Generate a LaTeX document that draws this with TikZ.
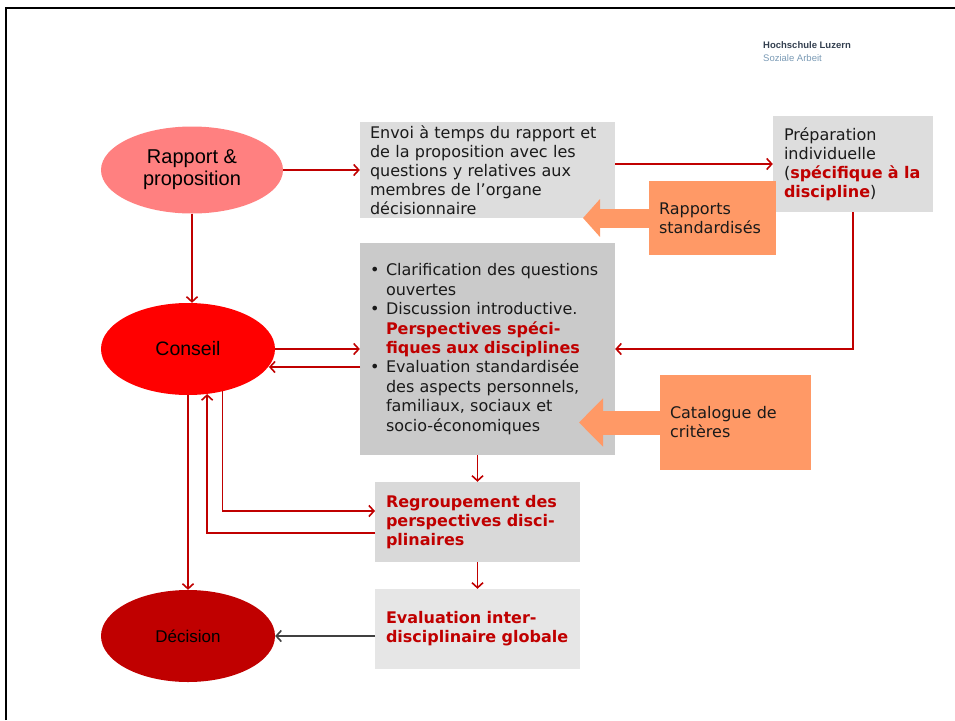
\documentclass[tikz,border=0pt]{standalone}
\usepackage{fontspec}
\setmainfont{DejaVu Sans}
\newfontfamily\arialfont{Liberation Sans}
\usetikzlibrary{arrows.meta,shapes.geometric}

% Couleurs
\definecolor{rouge}{HTML}{C00000}
\definecolor{rougeclair}{HTML}{FF8080}
\definecolor{rougevif}{HTML}{FF0000}
\definecolor{grisclair}{HTML}{DDDDDD}
\definecolor{grisfonce}{HTML}{CACACA}
\definecolor{grismoyen}{HTML}{D9D9D9}
\definecolor{grispale}{HTML}{E6E6E6}
\definecolor{orangeclair}{HTML}{FF9966}
\definecolor{texte}{HTML}{1A1A1A}
\definecolor{logosombre}{HTML}{333F4F}
\definecolor{logobleu}{HTML}{7A9AB5}

\newcommand{\enrouge}[1]{\textcolor{rouge}{\textbf{#1}}}
\newcommand{\puce}{\makebox[16pt][l]{\textbullet}}
\newcommand{\retrait}{\hspace*{16pt}}

\tikzset{
  bloc/.style={rectangle, inner xsep=10pt, inner ysep=0pt, align=left,
    text=texte, font=\fontsize{16}{19}\selectfont},
  bulle/.style={ellipse, inner sep=0pt, align=center, text=black},
  fleche/.style={draw=rouge, line width=1.6pt,
    -{Straight Barb[length=5pt,width=11pt]}},
  renvoi/.style={draw=orangeclair, line width=#1}
}

\begin{document}
\begin{tikzpicture}[x=1pt,y=-1pt]
        \useasboundingbox (0,0) rectangle (955,720);

        % Cadre
        \draw[line width=2.5pt] (6,720) -- (6,8) -- (955,8);

        % Logo
        \node[anchor=west, inner sep=0pt, text=logosombre,
              font=\arialfont\bfseries\fontsize{9.5}{10}\selectfont] (hslu) at (763,45) {Hochschule Luzern};
        \node[anchor=west, inner sep=0pt, text=logobleu,
              font=\arialfont\fontsize{9.5}{10}\selectfont] (sozial) at (763,58) {Soziale Arbeit};

        % Ellipses
        \node[bulle, fill=rougeclair, minimum width=182pt, minimum height=87pt,
              font=\arialfont\fontsize{20}{22}\selectfont] (rapport) at (192,170) {Rapport \&\\proposition};
        \node[bulle, fill=rougevif, minimum width=174pt, minimum height=92pt,
              font=\arialfont\fontsize{19.5}{22}\selectfont] (conseil) at (188,349) {Conseil};
        \node[bulle, fill=rouge, minimum width=174pt, minimum height=92pt,
              font=\arialfont\fontsize{17}{20}\selectfont] (decision) at (188,636) {Décision};

        % Blocs gris
        \node[bloc, fill=grisclair, text width=235pt, minimum height=96pt] (envoi) at (487.5,170)
             {Envoi à temps du rapport et\\de la proposition avec les\\questions y relatives aux\\membres de l’organe\\décisionnaire};
        \node[bloc, fill=grisclair, inner xsep=11pt, text width=138pt, minimum height=96pt] (prep) at (853,164)
             {Préparation\\individuelle\\(\enrouge{spécifique à la}\\\enrouge{discipline})};
        \node[bloc, fill=grisfonce, text width=235pt, minimum height=212pt,
              font=\fontsize{16}{19.4}\selectfont] (clar) at (487.5,349)
             {\puce Clarification des questions\\\retrait ouvertes\\
              \puce Discussion introductive.\\\retrait\enrouge{Perspectives spéci-}\\\retrait\enrouge{fiques aux disciplines}\\
              \puce Evaluation standardisée\\\retrait des aspects personnels,\\\retrait familiaux, sociaux et\\\retrait socio-économiques};
        \node[bloc, fill=grismoyen, inner xsep=11pt, text width=183pt, minimum height=80pt] (regroup) at (477.5,522)
             {\enrouge{Regroupement des}\\\enrouge{perspectives disci-}\\\enrouge{plinaires}};
        \node[bloc, fill=grispale, inner xsep=11pt, text width=183pt, minimum height=80pt] (evalglob) at (477.5,629)
             {\enrouge{Evaluation inter-}\\\enrouge{disciplinaire globale}};

        % Fleches rouges
        \draw[fleche] (rapport.east) -- (envoi.west);
        \draw[fleche] (envoi.east |- prep.west) -- (prep.west);
        \draw[fleche] (prep.south) |- (clar.east);
        \draw[fleche] (rapport.south) -- (rapport.south |- conseil.north);
        \draw[fleche] (conseil.east) -- (clar.west);
        \coordinate (clarretour) at (360,367);
        \draw[fleche] (clarretour) -- (clarretour -| conseil.-12.7);
        \draw[fleche] (regroup.north |- clar.south) -- (regroup.north);
        \coordinate (regentree) at (375,511);
        \draw[fleche] (conseil.-51.2) |- (regentree);
        \coordinate (regsortie) at (375,533);
        \draw[fleche] (regsortie) -| (conseil.-67);
        \draw[fleche] (conseil.south) -- (decision.north);
        \draw[fleche] (regroup.south) -- (evalglob.north);
        \coordinate (evalsortie) at (375,636);
        \draw[fleche, draw=black!75] (evalsortie) -- (decision.east);

        % Blocs orange avec leur fleche
        \node[bloc, fill=orangeclair, text width=107pt, minimum height=74pt] (rapstd) at (712.5,218)
             {Rapports\\standardisés};
        \coordinate (rapstdpointe) at (583,218);
        \draw[renvoi=19pt, -{Triangle[length=17pt,width=37pt]}, fill=orangeclair] (rapstd.west) -- (rapstdpointe);

        \node[bloc, fill=orangeclair, text width=131pt, minimum height=95pt] (catalog) at (735.5,422.5)
             {Catalogue de\\critères};
        \coordinate (catalogpointe) at (579,422.5);
        \draw[renvoi=24pt, -{Triangle[length=24pt,width=47pt]}, fill=orangeclair] (catalog.west) -- (catalogpointe);
    \end{tikzpicture}
\end{document}
